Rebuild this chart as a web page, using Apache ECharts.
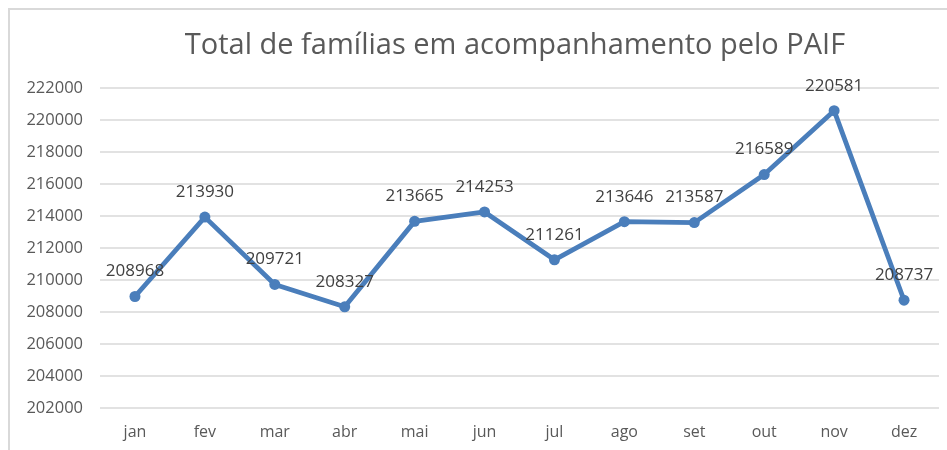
<!DOCTYPE html>
<html>
<head>
<meta charset="utf-8">
<script src="https://cdn.jsdelivr.net/npm/echarts@6/dist/echarts.min.js"></script>
<style>
html, body { margin: 0; padding: 0; background: #fff; }
#main { position: absolute; left: 0; top: 0; width: 947px; height: 450px; }
.frame {
    position: absolute; left: 8px; top: 8px; width: 945px; height: 450px;
    border-left: 2px solid #d9d9d9; border-top: 2px solid #d9d9d9;
    pointer-events: none;
}
</style>
</head>
<body>
<div id="main"></div>
<div class="frame"></div>
<script>
var meses = ['jan', 'fev', 'mar', 'abr', 'mai', 'jun', 'jul', 'ago', 'set', 'out', 'nov', 'dez'];
var familias = [208968, 213930, 209721, 208327, 213665, 214253, 211261, 213646, 213587, 216589, 220581, 208737];
var yMin = 202000;
var yMax = 222000;
var yStep = 2000;

var chartDom = document.getElementById('main');
var myChart = echarts.init(chartDom);
var option;

option = {
    animation: false,
    textStyle: { fontFamily: '"Open Sans", sans-serif' },
    title: {
        text: 'Total de famílias em acompanhamento pelo PAIF',
        left: 510,
        textAlign: 'center',
        top: 26,
        textStyle: { fontSize: 29, fontWeight: 'normal', color: '#595959', fontFamily: '"Open Sans", sans-serif' }
    },
    grid: { left: 100, right: 8, top: 88, bottom: 42 },
    xAxis: {
        type: 'category',
        data: meses,
        boundaryGap: true,
        axisLine: { show: false },
        axisTick: { show: false },
        axisLabel: { color: '#595959', fontSize: 16, margin: 16 }
    },
    yAxis: {
        type: 'value',
        min: yMin,
        max: yMax,
        interval: yStep,
        axisLine: { show: false },
        axisTick: { show: false },
        axisLabel: {
            color: '#595959',
            fontSize: 16.5,
            margin: 17,
            formatter: function (v) { return String(v); }
        },
        splitLine: { lineStyle: { color: '#d9d9d9', width: 1.5 } }
    },
    series: [
        {
            name: 'Famílias',
            type: 'line',
            data: familias,
            symbol: 'circle',
            symbolSize: 11,
            lineStyle: { color: '#4a7ebb', width: 4.8 },
            itemStyle: { color: '#4a7ebb' },
            label: {
                show: true,
                position: 'top',
                distance: 11,
                color: '#404040',
                fontSize: 17
            }
        }
    ]
};

option && myChart.setOption(option);
</script>
</body>
</html>
